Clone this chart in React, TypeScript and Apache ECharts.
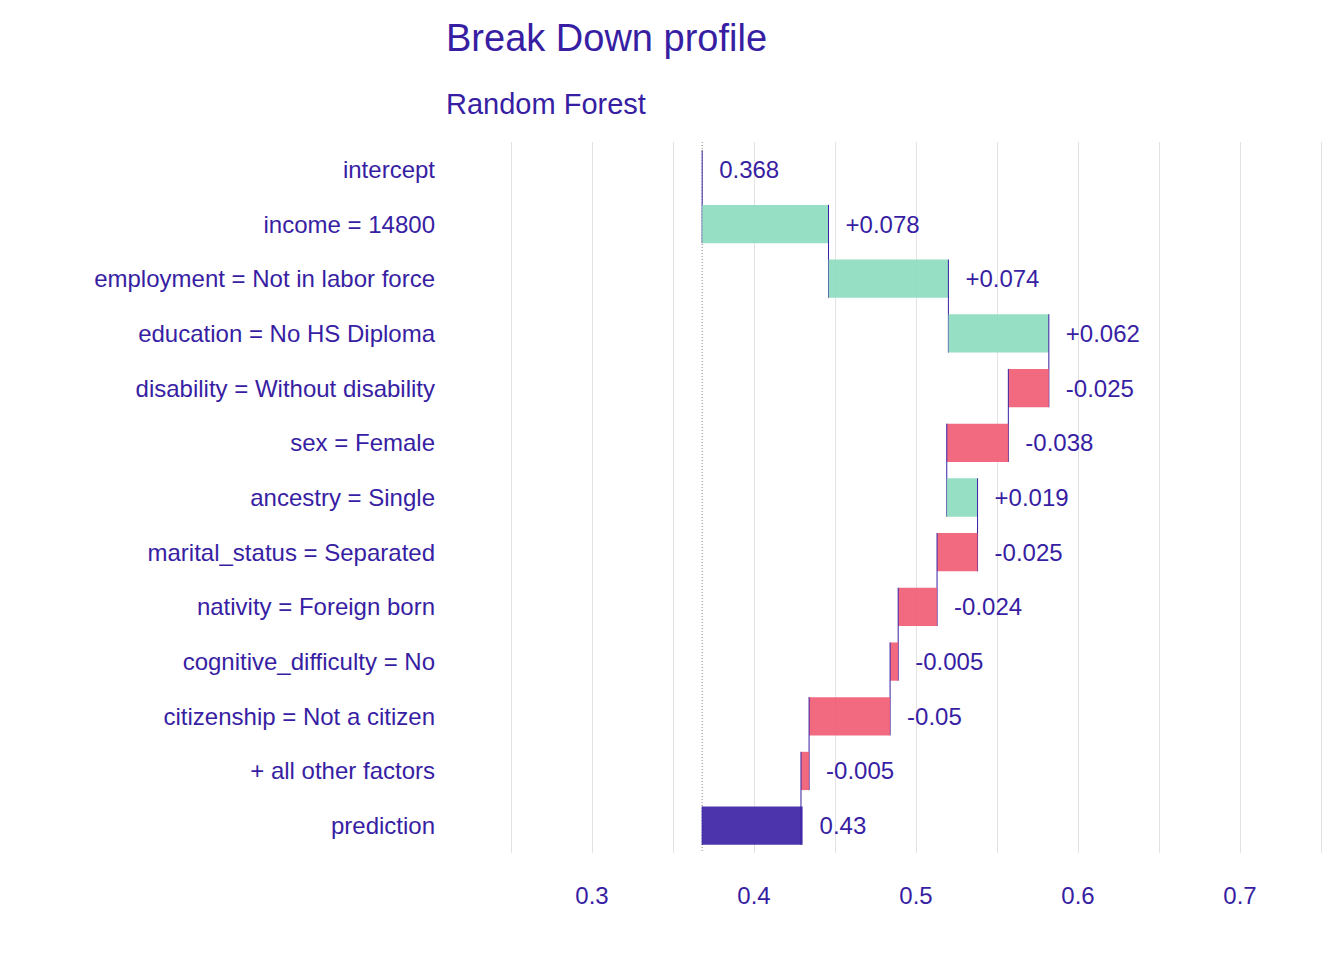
import React, { useEffect, useRef } from "react";
import * as echarts from "echarts";

const categories = [
  "intercept",
  "income = 14800",
  "employment = Not in labor force",
  "education = No HS Diploma",
  "disability = Without disability",
  "sex = Female",
  "ancestry = Single",
  "marital_status = Separated",
  "nativity = Foreign born",
  "cognitive_difficulty = No",
  "citizenship = Not a citizen",
  "+ all other factors",
  "prediction",
];
const contributions = [0.368, 0.078, 0.074, 0.062, -0.025, -0.038, 0.019, -0.025, -0.024, -0.005, -0.05, -0.005, 0.43];
const valueLabels = ["0.368", "+0.078", "+0.074", "+0.062", "-0.025", "-0.038", "+0.019", "-0.025", "-0.024", "-0.005", "-0.05", "-0.005", "0.43"];

const TXT = "#371ea3";
const GREEN = "#8bdcbe";
const RED = "#f05a71";
const FONT = "Liberation Sans, Arial, sans-serif";

export default function App() {
  const ref = useRef<HTMLDivElement>(null);
  useEffect(() => {
    const chart = echarts.init(ref.current!, undefined, { renderer: "svg" });
    const intercept = contributions[0];
    const rows: number[][] = [];
    let cum = intercept;
    categories.forEach((_, i) => {
      if (i === 0) rows.push([i, intercept, intercept, 0]);
      else if (i === categories.length - 1) rows.push([i, intercept, contributions[i], 2]);
      else {
        const s = cum;
        cum = cum + contributions[i];
        rows.push([i, s, cum, contributions[i] >= 0 ? 1 : -1]);
      }
    });
    const n = rows.length;
    chart.setOption({
      animation: false,
      title: [
        { text: "Break Down profile", left: 433, top: 6, textStyle: { color: TXT, fontSize: 38, fontWeight: "normal", fontFamily: FONT } },
        { text: "Random Forest", left: 433, top: 76, textStyle: { color: TXT, fontSize: 29, fontWeight: "normal", fontFamily: FONT } },
      ],
      grid: { left: 503, right: 15, top: 134, bottom: 99 },
      xAxis: {
        type: "value", min: 0.25, max: 0.75, interval: 0.05,
        axisLine: { show: false }, axisTick: { show: false },
        splitLine: { lineStyle: { color: "#e3e3e3" } },
        axisLabel: {
          color: TXT, fontSize: 24, fontFamily: FONT, margin: 30,
          showMinLabel: true, showMaxLabel: true,
          formatter: (v: number) => {
            const r = Math.round(v * 100);
            return r % 10 === 0 ? String(r / 100) : "";
          },
        },
      },
      yAxis: {
        type: "category", data: categories, inverse: true,
        axisLine: { show: false }, axisTick: { show: false },
        axisLabel: { color: TXT, fontSize: 24, fontFamily: FONT, margin: 76 },
      },
      series: [
        {
          type: "custom",
          data: rows,
          encode: { x: [1, 2], y: 0 },
          renderItem: (params: any, api: any) => {
            const i = api.value(0);
            const s = api.value(1);
            const e = api.value(2);
            const kind = api.value(3);
            const band = api.size([0, 1])[1];
            const h = band * 0.7;
            const p1 = api.coord([s, i]);
            const p2 = api.coord([e, i]);
            const x0 = Math.min(p1[0], p2[0]);
            const x1 = Math.max(p1[0], p2[0]);
            const cy = p1[1];
            const children: any[] = [];
            const fill = kind === 2 ? TXT : kind === 1 ? GREEN : RED;
            if (kind !== 0) {
              children.push({ type: "rect", shape: { x: x0, y: cy - h / 2, width: x1 - x0, height: h }, style: { fill, opacity: 0.9 } });
            }
            if (i < n - 1) {
              children.push({ type: "line", shape: { x1: p2[0], y1: cy - h / 2, x2: p2[0], y2: cy + band + h / 2 }, style: { stroke: TXT, lineWidth: 1 } });
            } else {
              children.push({ type: "line", shape: { x1: p1[0], y1: cy - h / 2, x2: p1[0], y2: cy + h / 2 }, style: { stroke: TXT, lineWidth: 1 } });
            }
            if (i === 0) {
              const top = api.coord([s, 0])[1] - band / 2;
              const bot = api.coord([s, n - 1])[1] + band / 2;
              children.push({ type: "line", shape: { x1: p1[0], y1: top, x2: p1[0], y2: bot }, style: { stroke: "#555", lineWidth: 0.7, lineDash: [1, 2] } });
            }
            children.push({
              type: "text",
              style: { text: valueLabels[i], x: x1 + 17, y: cy, verticalAlign: "middle", fill: TXT, fontSize: 24, fontFamily: FONT },
            });
            return { type: "group", children };
          },
        },
      ],
    });
    return () => chart.dispose();
  }, []);
  return <div ref={ref} style={{ width: 1328, height: 944 }} />;
}
